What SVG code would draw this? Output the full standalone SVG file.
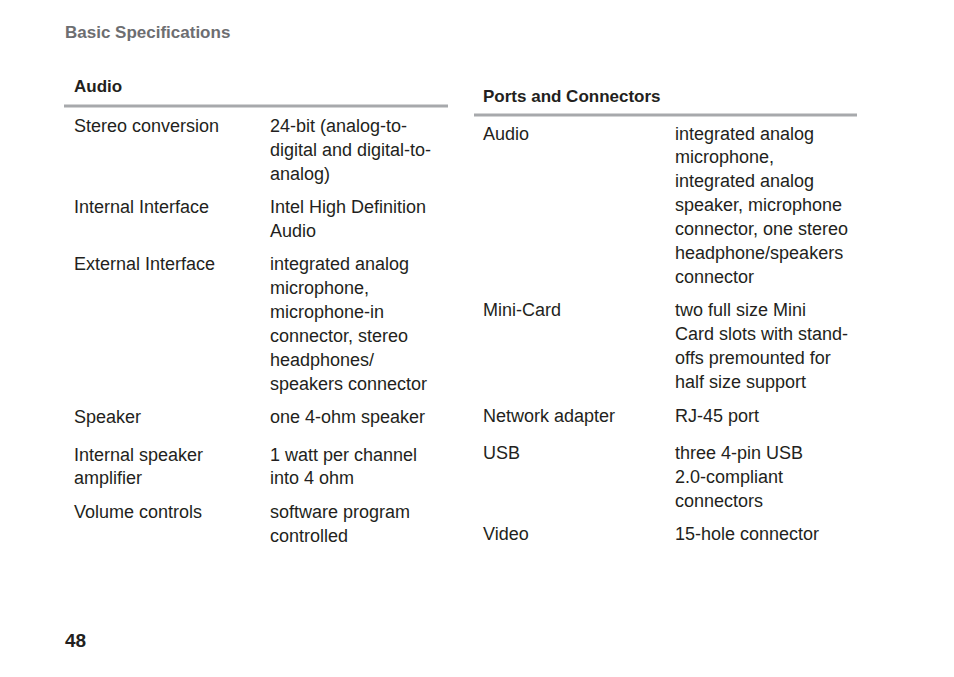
<svg xmlns="http://www.w3.org/2000/svg" width="954" height="677" viewBox="0 0 954 677">
<style>
text{font-family:"Liberation Sans Narrow","Liberation Sans",Arial,sans-serif;font-size:18px;fill:#231f20}
.h{font-weight:bold;font-size:17px}
.t{fill:#6d6e71;font-weight:bold;font-family:"Liberation Sans",Arial,sans-serif;font-size:17px}
.r{stroke:#a7a9ac;stroke-width:3}
</style>
<rect width="954" height="677" fill="#fff"/>
<text class="t" x="65" y="38">Basic Specifications</text>
<g id="audio">
<text class="h" x="74" y="92">Audio</text>
<line class="r" x1="64" y1="106" x2="448" y2="106"/>
<text x="74" y="132">Stereo conversion</text>
<text x="270" y="132">24-bit (analog-to-</text>
<text x="270" y="156">digital and digital-to-</text>
<text x="270" y="180">analog)</text>
<text x="74" y="213">Internal Interface</text>
<text x="270" y="213">Intel High Definition</text>
<text x="270" y="237">Audio</text>
<text x="74" y="270">External Interface</text>
<text x="270" y="270">integrated analog</text>
<text x="270" y="294">microphone,</text>
<text x="270" y="318">microphone-in</text>
<text x="270" y="342">connector, stereo</text>
<text x="270" y="366">headphones/</text>
<text x="270" y="390">speakers connector</text>
<text x="74" y="423">Speaker</text>
<text x="270" y="423">one 4-ohm speaker</text>
<text x="74" y="461">Internal speaker</text>
<text x="74" y="484">amplifier</text>
<text x="270" y="461">1 watt per channel</text>
<text x="270" y="484">into 4 ohm</text>
<text x="74" y="518">Volume controls</text>
<text x="270" y="518">software program</text>
<text x="270" y="542">controlled</text>
</g>
<g id="ports">
<text class="h" x="483" y="102">Ports and Connectors</text>
<line class="r" x1="474" y1="115" x2="857" y2="115"/>
<text x="483" y="140">Audio</text>
<text x="675" y="140">integrated analog</text>
<text x="675" y="163">microphone,</text>
<text x="675" y="187">integrated analog</text>
<text x="675" y="211">speaker, microphone</text>
<text x="675" y="235">connector, one stereo</text>
<text x="675" y="259">headphone/speakers</text>
<text x="675" y="283">connector</text>
<text x="483" y="316">Mini-Card</text>
<text x="675" y="316">two full size Mini</text>
<text x="675" y="340">Card slots with stand-</text>
<text x="675" y="364">offs premounted for</text>
<text x="675" y="388">half size support</text>
<text x="483" y="422">Network adapter</text>
<text x="675" y="422">RJ-45 port</text>
<text x="483" y="459">USB</text>
<text x="675" y="459">three 4-pin USB</text>
<text x="675" y="483">2.0-compliant</text>
<text x="675" y="507">connectors</text>
<text x="483" y="540">Video</text>
<text x="675" y="540">15-hole connector</text>
</g>
<text class="h" x="65" y="647" style="font-family:'Liberation Sans',Arial,sans-serif;font-size:19px">48</text>
</svg>
